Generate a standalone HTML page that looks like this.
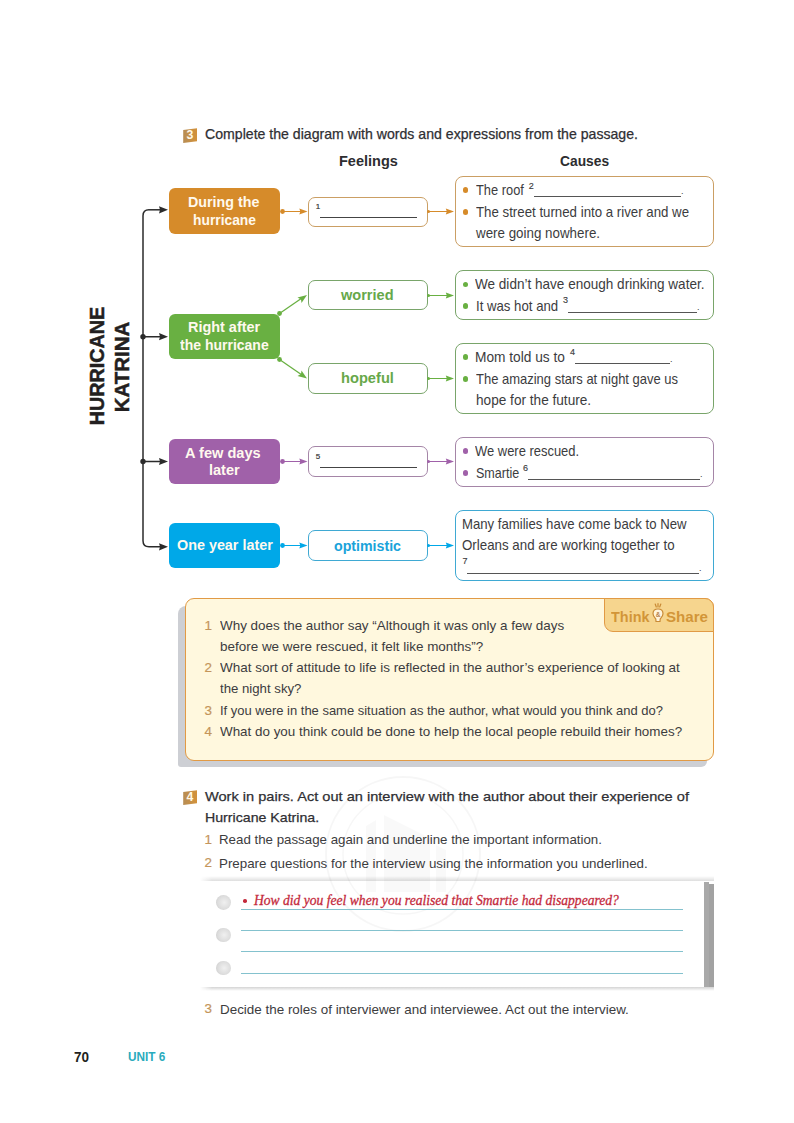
<!DOCTYPE html>
<html><head><meta charset="utf-8"><style>
html,body{margin:0;padding:0;background:#fff;}
body{width:794px;height:1123px;position:relative;overflow:hidden;font-family:"Liberation Sans", sans-serif;}
.t{position:absolute;white-space:nowrap;line-height:1;}
.r{position:absolute;}
</style></head><body>

<svg class="r" style="left:181px;top:127px" width="18" height="18" viewBox="0 0 18 18"><defs><linearGradient id="g3" x1="0" x2="1" y1="0" y2="0"><stop offset="0" stop-color="#B78D55"/><stop offset="1" stop-color="#D3923A"/></linearGradient></defs><path d="M2.2 3 L16 1.2 L16 14.3 L2.2 16 Z" fill="url(#g3)"/><text x="8.9" y="12.3" font-family="Liberation Sans" font-weight="bold" font-size="12.3" fill="#FFF8E8" text-anchor="middle">3</text></svg>
<div class="t" style="left:204.80px;top:127.06px;font-size:14.1px;font-weight:normal;color:#2f2f33;transform:scaleX(1.0013);transform-origin:0 0;-webkit-text-stroke:0.25px #2f2f33;">Complete the diagram with words and expressions from the passage.</div>
<div class="t" style="left:338.60px;top:152.70px;font-size:15px;font-weight:bold;color:#2d2d30;transform:scaleX(0.9679);transform-origin:0 0;">Feelings</div>
<div class="t" style="left:559.60px;top:152.70px;font-size:15px;font-weight:bold;color:#2d2d30;transform:scaleX(0.9200);transform-origin:0 0;">Causes</div>
<div class="t" style="left:16.700000000000003px;top:354.4px;width:160px;height:24px;line-height:24px;text-align:center;font-size:21px;font-weight:bold;color:#231f20;transform:rotate(-90deg) scaleX(0.94);-webkit-text-stroke:0.5px #231f20;">HURRICANE</div>
<div class="t" style="left:42.3px;top:354.8px;width:160px;height:24px;line-height:24px;text-align:center;font-size:21px;font-weight:bold;color:#231f20;transform:rotate(-90deg) scaleX(0.975);-webkit-text-stroke:0.5px #231f20;">KATRINA</div>
<div class="r" style="left:169px;top:188.3px;width:111px;height:45.69999999999999px;background:#D68B2A;border-radius:6px;"></div>
<div class="t" style="left:188.40px;top:194.58px;font-size:14.2px;font-weight:bold;color:#FFF9EE;transform:scaleX(1.0070);transform-origin:0 0;">During the</div>
<div class="t" style="left:192.60px;top:212.58px;font-size:14.2px;font-weight:bold;color:#FFF9EE;transform:scaleX(0.9736);transform-origin:0 0;">hurricane</div>
<div class="r" style="left:169px;top:314.2px;width:111px;height:44.60000000000002px;background:#69B042;border-radius:6px;"></div>
<div class="t" style="left:187.70px;top:320.38px;font-size:14.2px;font-weight:bold;color:#FFF9EE;transform:scaleX(1.0169);transform-origin:0 0;">Right after</div>
<div class="t" style="left:180.10px;top:337.78px;font-size:14.2px;font-weight:bold;color:#FFF9EE;transform:scaleX(0.9871);transform-origin:0 0;">the hurricane</div>
<div class="r" style="left:169px;top:439.2px;width:111px;height:44.80000000000001px;background:#A061A9;border-radius:6px;"></div>
<div class="t" style="left:185.40px;top:445.68px;font-size:14.2px;font-weight:bold;color:#FFF9EE;transform:scaleX(1.0291);transform-origin:0 0;">A few days</div>
<div class="t" style="left:208.80px;top:462.78px;font-size:14.2px;font-weight:bold;color:#FFF9EE;transform:scaleX(1.0237);transform-origin:0 0;">later</div>
<div class="r" style="left:169px;top:522.8px;width:111px;height:45.200000000000045px;background:#00A8E8;border-radius:6px;"></div>
<div class="t" style="left:176.80px;top:538.08px;font-size:14.2px;font-weight:bold;color:#FFF9EE;transform:scaleX(1.0115);transform-origin:0 0;">One year later</div>
<div class="r" style="left:308px;top:196.5px;width:120px;height:30.5px;border:1.3px solid #CB9F64;border-radius:7px;background:#fff;box-sizing:border-box;"></div>
<div class="t" style="left:315.80px;top:203.23px;font-size:8px;font-weight:normal;color:#333;-webkit-text-stroke:0.2px #333;">1</div>
<div class="r" style="left:320px;top:217.1px;width:96.80000000000001px;height:1.3000000000000114px;background:#444;"></div>
<div class="r" style="left:308px;top:279.8px;width:120px;height:30.0px;border:1.3px solid #79A56A;border-radius:7px;background:#fff;box-sizing:border-box;"></div>
<div class="t" style="left:340.84px;top:287.93px;font-size:14.5px;font-weight:bold;color:#67A84A;transform:scaleX(1.0035);transform-origin:0 0;">worried</div>
<div class="r" style="left:308px;top:363.2px;width:120px;height:30.400000000000034px;border:1.3px solid #79A56A;border-radius:7px;background:#fff;box-sizing:border-box;"></div>
<div class="t" style="left:340.80px;top:371.43px;font-size:14.5px;font-weight:bold;color:#67A84A;transform:scaleX(1.0106);transform-origin:0 0;">hopeful</div>
<div class="r" style="left:308px;top:446.3px;width:120px;height:30.5px;border:1.3px solid #A585A7;border-radius:7px;background:#fff;box-sizing:border-box;"></div>
<div class="t" style="left:315.80px;top:453.03px;font-size:8px;font-weight:normal;color:#333;-webkit-text-stroke:0.2px #333;">5</div>
<div class="r" style="left:320px;top:466.90000000000003px;width:96.80000000000001px;height:1.2999999999999545px;background:#444;"></div>
<div class="r" style="left:308px;top:529.7px;width:120px;height:31.09999999999991px;border:1.3px solid #3FA9D3;border-radius:7px;background:#fff;box-sizing:border-box;"></div>
<div class="t" style="left:334.40px;top:538.63px;font-size:14.5px;font-weight:bold;color:#1AA3DA;transform:scaleX(0.9783);transform-origin:0 0;">optimistic</div>
<div class="r" style="left:455px;top:175.5px;width:259px;height:71.5px;border:1.5px solid #CB9F64;border-radius:8px;background:#fff;box-sizing:border-box;"></div>
<div class="r" style="left:462.7px;top:187.3px;width:5.4px;height:5.4px;border-radius:50%;background:#D68B2A;"></div>
<div class="t" style="left:475.80px;top:184.03px;font-size:13.9px;font-weight:normal;color:#3C3C3E;transform:scaleX(0.9249);transform-origin:0 0;">The roof</div>
<div class="t" style="left:528.70px;top:181.88px;font-size:9px;font-weight:normal;color:#3C3C3E;-webkit-text-stroke:0.15px #424244;">2</div>
<div class="r" style="left:534px;top:196px;width:147px;height:1.1999999999999886px;background:#555;"></div>
<div class="t" style="left:681.00px;top:187.48px;font-size:9px;font-weight:normal;color:#3C3C3E;">.</div>
<div class="r" style="left:462.7px;top:209.3px;width:5.4px;height:5.4px;border-radius:50%;background:#D68B2A;"></div>
<div class="t" style="left:475.80px;top:205.93px;font-size:13.9px;font-weight:normal;color:#3C3C3E;transform:scaleX(0.9548);transform-origin:0 0;">The street turned into a river and we</div>
<div class="t" style="left:475.83px;top:227.13px;font-size:13.9px;font-weight:normal;color:#3C3C3E;transform:scaleX(0.9622);transform-origin:0 0;">were going nowhere.</div>
<div class="r" style="left:455px;top:269.5px;width:259px;height:50.5px;border:1.5px solid #79A56A;border-radius:8px;background:#fff;box-sizing:border-box;"></div>
<div class="r" style="left:462.7px;top:281.8px;width:5.4px;height:5.4px;border-radius:50%;background:#69B042;"></div>
<div class="t" style="left:474.80px;top:278.33px;font-size:13.9px;font-weight:normal;color:#3C3C3E;transform:scaleX(0.9753);transform-origin:0 0;">We didn’t have enough drinking water.</div>
<div class="r" style="left:462.7px;top:303.3px;width:5.4px;height:5.4px;border-radius:50%;background:#69B042;"></div>
<div class="t" style="left:475.80px;top:300.03px;font-size:13.9px;font-weight:normal;color:#3C3C3E;transform:scaleX(0.9498);transform-origin:0 0;">It was hot and</div>
<div class="t" style="left:563.00px;top:295.98px;font-size:9px;font-weight:normal;color:#3C3C3E;-webkit-text-stroke:0.15px #424244;">3</div>
<div class="r" style="left:568px;top:312px;width:129px;height:1.1999999999999886px;background:#555;"></div>
<div class="t" style="left:697.00px;top:303.48px;font-size:9px;font-weight:normal;color:#3C3C3E;">.</div>
<div class="r" style="left:455px;top:342.5px;width:259px;height:71.5px;border:1.5px solid #79A56A;border-radius:8px;background:#fff;box-sizing:border-box;"></div>
<div class="r" style="left:462.7px;top:354.3px;width:5.4px;height:5.4px;border-radius:50%;background:#69B042;"></div>
<div class="t" style="left:475.00px;top:351.13px;font-size:13.9px;font-weight:normal;color:#3C3C3E;transform:scaleX(0.9873);transform-origin:0 0;">Mom told us to</div>
<div class="t" style="left:570.00px;top:348.08px;font-size:9px;font-weight:normal;color:#3C3C3E;-webkit-text-stroke:0.15px #424244;">4</div>
<div class="r" style="left:575px;top:363px;width:95px;height:1.1999999999999886px;background:#555;"></div>
<div class="t" style="left:670.00px;top:354.58px;font-size:9px;font-weight:normal;color:#3C3C3E;">.</div>
<div class="r" style="left:462.7px;top:376.3px;width:5.4px;height:5.4px;border-radius:50%;background:#69B042;"></div>
<div class="t" style="left:475.80px;top:373.03px;font-size:13.9px;font-weight:normal;color:#3C3C3E;transform:scaleX(0.9346);transform-origin:0 0;">The amazing stars at night gave us</div>
<div class="t" style="left:475.80px;top:394.13px;font-size:13.9px;font-weight:normal;color:#3C3C3E;transform:scaleX(0.9808);transform-origin:0 0;">hope for the future.</div>
<div class="r" style="left:455px;top:436.5px;width:259px;height:50.5px;border:1.5px solid #A585A7;border-radius:8px;background:#fff;box-sizing:border-box;"></div>
<div class="r" style="left:462.7px;top:448.3px;width:5.4px;height:5.4px;border-radius:50%;background:#A061A9;"></div>
<div class="t" style="left:474.80px;top:445.13px;font-size:13.9px;font-weight:normal;color:#3C3C3E;transform:scaleX(0.9323);transform-origin:0 0;">We were rescued.</div>
<div class="r" style="left:462.7px;top:470.3px;width:5.4px;height:5.4px;border-radius:50%;background:#A061A9;"></div>
<div class="t" style="left:475.80px;top:467.03px;font-size:13.9px;font-weight:normal;color:#3C3C3E;transform:scaleX(0.9022);transform-origin:0 0;">Smartie</div>
<div class="t" style="left:523.00px;top:463.58px;font-size:9px;font-weight:normal;color:#3C3C3E;-webkit-text-stroke:0.15px #424244;">6</div>
<div class="r" style="left:528px;top:479px;width:172px;height:1.1999999999999886px;background:#555;"></div>
<div class="t" style="left:700.00px;top:470.48px;font-size:9px;font-weight:normal;color:#3C3C3E;">.</div>
<div class="r" style="left:455px;top:509.5px;width:259px;height:71.5px;border:1.5px solid #3FA9D3;border-radius:8px;background:#fff;box-sizing:border-box;"></div>
<div class="t" style="left:462.30px;top:518.43px;font-size:13.9px;font-weight:normal;color:#3C3C3E;transform:scaleX(0.9473);transform-origin:0 0;">Many families have come back to New</div>
<div class="t" style="left:462.30px;top:539.43px;font-size:13.9px;font-weight:normal;color:#3C3C3E;transform:scaleX(0.9591);transform-origin:0 0;">Orleans and are working together to</div>
<div class="t" style="left:462.50px;top:556.88px;font-size:9px;font-weight:normal;color:#3C3C3E;-webkit-text-stroke:0.15px #424244;">7</div>
<div class="r" style="left:467px;top:572.5px;width:232px;height:1.2000000000000455px;background:#555;"></div>
<div class="t" style="left:699.00px;top:564.38px;font-size:9px;font-weight:normal;color:#3C3C3E;">.</div>
<div class="r" style="left:178px;top:606px;width:529px;height:161px;background:#CDCFD4;border-radius:8px 0 6px 3px;"></div>
<div class="r" style="left:185px;top:598px;width:529px;height:163px;background:#FFF8DE;border:1.5px solid #E19A45;border-radius:9px;box-sizing:border-box;"></div>
<div class="r" style="left:603.5px;top:598px;width:110.5px;height:33.5px;background:#F6D58E;border:1.5px solid #E19A45;border-radius:0 9px 0 9px;box-sizing:border-box;"></div>
<div class="t" style="left:610.50px;top:609.97px;font-size:14.8px;font-weight:bold;color:#D29538;transform:scaleX(0.9750);transform-origin:0 0;">Think</div>
<div class="t" style="left:665.50px;top:609.97px;font-size:14.8px;font-weight:bold;color:#D29538;transform:scaleX(1.0212);transform-origin:0 0;">Share</div>
<svg class="r" style="left:650px;top:602px" width="16" height="22" viewBox="0 0 16 22"><path d="M5.2 2 L6.3 5 M8 1.5 L8 5 M10.8 2 L9.7 5" stroke="#C98A35" stroke-width="1.2" stroke-linecap="round"/><path d="M8 7 C11 7 13 9 13 11.8 C13 14 11.5 15.5 10.2 17 L10 19.5 L6 19.5 L5.8 17 C4.5 15.5 3 14 3 11.8 C3 9 5 7 8 7 Z" fill="#FFF4DC" stroke="#C98A35" stroke-width="1.2"/><text x="8" y="15" font-family="Liberation Sans" font-weight="bold" font-size="6.5" fill="#B7804A" text-anchor="middle">&amp;</text></svg>
<div class="t" style="left:204.50px;top:618.56px;font-size:13.4px;font-weight:normal;color:#C4955A;-webkit-text-stroke:0.2px #C4955A;">1</div>
<div class="t" style="left:219.50px;top:618.73px;font-size:13.2px;font-weight:normal;color:#3C3C3E;transform:scaleX(1.0185);transform-origin:0 0;">Why does the author say “Although it was only a few days</div>
<div class="t" style="left:219.50px;top:640.23px;font-size:13.2px;font-weight:normal;color:#3C3C3E;transform:scaleX(1.0203);transform-origin:0 0;">before we were rescued, it felt like months”?</div>
<div class="t" style="left:204.50px;top:661.16px;font-size:13.4px;font-weight:normal;color:#C4955A;-webkit-text-stroke:0.2px #C4955A;">2</div>
<div class="t" style="left:219.50px;top:661.33px;font-size:13.2px;font-weight:normal;color:#3C3C3E;transform:scaleX(1.0211);transform-origin:0 0;">What sort of attitude to life is reflected in the author’s experience of looking at</div>
<div class="t" style="left:219.50px;top:682.13px;font-size:13.2px;font-weight:normal;color:#3C3C3E;transform:scaleX(1.0007);transform-origin:0 0;">the night sky?</div>
<div class="t" style="left:204.50px;top:703.96px;font-size:13.4px;font-weight:normal;color:#C4955A;-webkit-text-stroke:0.2px #C4955A;">3</div>
<div class="t" style="left:219.50px;top:704.13px;font-size:13.2px;font-weight:normal;color:#3C3C3E;transform:scaleX(0.9839);transform-origin:0 0;">If you were in the same situation as the author, what would you think and do?</div>
<div class="t" style="left:204.50px;top:724.86px;font-size:13.4px;font-weight:normal;color:#C4955A;-webkit-text-stroke:0.2px #C4955A;">4</div>
<div class="t" style="left:219.50px;top:725.03px;font-size:13.2px;font-weight:normal;color:#3C3C3E;transform:scaleX(1.0166);transform-origin:0 0;">What do you think could be done to help the local people rebuild their homes?</div>
<svg class="r" style="left:181px;top:788.5px" width="18" height="18" viewBox="0 0 18 18"><defs><linearGradient id="g4" x1="0" x2="1" y1="0" y2="0"><stop offset="0" stop-color="#B78D55"/><stop offset="1" stop-color="#D3923A"/></linearGradient></defs><path d="M2.2 3 L16 1.2 L16 14.3 L2.2 16 Z" fill="url(#g4)"/><text x="8.9" y="12.3" font-family="Liberation Sans" font-weight="bold" font-size="12.3" fill="#FFF8E8" text-anchor="middle">4</text></svg>
<div class="t" style="left:204.80px;top:789.89px;font-size:13.6px;font-weight:normal;color:#2f2f33;transform:scaleX(1.0734);transform-origin:0 0;-webkit-text-stroke:0.25px #2f2f33;">Work in pairs. Act out an interview with the author about their experience of</div>
<div class="t" style="left:204.80px;top:810.79px;font-size:13.6px;font-weight:normal;color:#2f2f33;transform:scaleX(1.0419);transform-origin:0 0;-webkit-text-stroke:0.25px #2f2f33;">Hurricane Katrina.</div>
<div class="t" style="left:204.50px;top:832.66px;font-size:13.4px;font-weight:normal;color:#C4955A;-webkit-text-stroke:0.2px #C4955A;">1</div>
<div class="t" style="left:219.40px;top:832.83px;font-size:13.2px;font-weight:normal;color:#3C3C3E;transform:scaleX(1.0084);transform-origin:0 0;">Read the passage again and underline the important information.</div>
<div class="t" style="left:204.50px;top:856.36px;font-size:13.4px;font-weight:normal;color:#C4955A;-webkit-text-stroke:0.2px #C4955A;">2</div>
<div class="t" style="left:219.40px;top:856.53px;font-size:13.2px;font-weight:normal;color:#3C3C3E;transform:scaleX(1.0118);transform-origin:0 0;">Prepare questions for the interview using the information you underlined.</div>
<svg class="r" style="left:0;top:0" width="794" height="1123"><g fill="none" stroke="#000" stroke-opacity="0.035"><circle cx="403" cy="854" r="77" stroke-width="2"/><circle cx="403" cy="854" r="60" stroke-width="1.5"/></g><g fill="#000" fill-opacity="0.025"><path d="M366 826 L376 820 L376 892 L366 892 Z M384 815 L430 838 L430 892 L384 892 Z M436 845 L446 850 L446 892 L436 892 Z"/></g></svg>
<div class="r" style="left:200px;top:875.5px;width:514px;height:5.5px;background:linear-gradient(to right, rgba(255,255,255,1), rgba(255,255,255,0) 12px), linear-gradient(to bottom, rgba(0,0,0,0), rgba(0,0,0,0.13));"></div>
<div class="r" style="left:200px;top:986.5px;width:514px;height:4.5px;background:linear-gradient(to right, rgba(255,255,255,1), rgba(255,255,255,0) 12px), linear-gradient(to bottom, rgba(0,0,0,0.17), rgba(0,0,0,0));"></div>
<div class="r" style="left:704px;top:882px;width:5px;height:104.5px;background:#A9A9A9;"></div>
<div class="r" style="left:709px;top:884px;width:5px;height:102.5px;background:#A2A2A2;"></div>
<div class="r" style="left:215.9px;top:894.9px;width:14.8px;height:14.8px;border-radius:50%;background:radial-gradient(circle at 55% 50%, #f0f0f0 0%, #dcdcdc 60%, #c2c2c2 100%);"></div>
<div class="r" style="left:215.9px;top:927.6px;width:14.8px;height:14.8px;border-radius:50%;background:radial-gradient(circle at 55% 50%, #f0f0f0 0%, #dcdcdc 60%, #c2c2c2 100%);"></div>
<div class="r" style="left:215.9px;top:960.6px;width:14.8px;height:14.8px;border-radius:50%;background:radial-gradient(circle at 55% 50%, #f0f0f0 0%, #dcdcdc 60%, #c2c2c2 100%);"></div>
<div class="r" style="left:241px;top:909px;width:442.20000000000005px;height:1.25px;background:#84C2CE;"></div>
<div class="r" style="left:241px;top:930px;width:442.20000000000005px;height:1.25px;background:#84C2CE;"></div>
<div class="r" style="left:241px;top:951px;width:442.20000000000005px;height:1.25px;background:#84C2CE;"></div>
<div class="r" style="left:241px;top:973px;width:442.20000000000005px;height:1.25px;background:#84C2CE;"></div>
<div class="r" style="left:243.3px;top:899.3px;width:3.6px;height:3.6px;border-radius:50%;background:#C42A3C;"></div>
<div class="t" style="left:254.15px;top:892.73px;font-size:14.5px;font-weight:normal;color:#C42A3C;transform:scaleX(0.9365);transform-origin:0 0;font-family:'Liberation Serif',serif;-webkit-text-stroke:0.3px #C42A3C;"><i>How did you feel when you realised that Smartie had disappeared?</i></div>
<div class="t" style="left:204.50px;top:1002.46px;font-size:13.4px;font-weight:normal;color:#C4955A;-webkit-text-stroke:0.2px #C4955A;">3</div>
<div class="t" style="left:219.80px;top:1002.63px;font-size:13.2px;font-weight:normal;color:#3C3C3E;transform:scaleX(1.0177);transform-origin:0 0;">Decide the roles of interviewer and interviewee. Act out the interview.</div>
<div class="t" style="left:74.00px;top:1049.65px;font-size:14px;font-weight:bold;color:#231f20;transform:scaleX(0.9635);transform-origin:0 0;">70</div>
<div class="t" style="left:128.00px;top:1049.99px;font-size:13.6px;font-weight:bold;color:#2AABBD;transform:scaleX(0.8683);transform-origin:0 0;">UNIT 6</div>
<svg class="r" style="left:0;top:0" width="794" height="1123" viewBox="0 0 794 1123">
<path d="M149 209.8 Q143 209.8 143 215.8 L143 540.8 Q143 546.8 149 546.8 L160 546.8" fill="none" stroke="#2b2b2b" stroke-width="1.5"/>
<path d="M149 209.8 L160 209.8" stroke="#2b2b2b" stroke-width="1.5"/>
<path d="M143 336.7 L160 336.7 M143 461.5 L160 461.5" stroke="#2b2b2b" stroke-width="1.5"/>
<path d="M168 209.8 L159 206.20000000000002 L160 209.8 L159 213.4 Z" fill="#2b2b2b"/>
<path d="M168 336.7 L159 333.09999999999997 L160 336.7 L159 340.3 Z" fill="#2b2b2b"/>
<path d="M168 461.5 L159 457.9 L160 461.5 L159 465.1 Z" fill="#2b2b2b"/>
<path d="M168 546.8 L159 543.1999999999999 L160 546.8 L159 550.4 Z" fill="#2b2b2b"/>
<circle cx="143" cy="336.7" r="2.7" fill="#2b2b2b"/>
<circle cx="143" cy="461.5" r="2.7" fill="#2b2b2b"/>
<circle cx="282.5" cy="211.5" r="2.4" fill="#D68B2A"/>
<path d="M282.5 211.5 L301.5 211.5" stroke="#D68B2A" stroke-width="1.05"/>
<path d="M307.5 211.5 L299.3 208.4 L300.3 211.5 L299.3 214.6 Z" fill="#D68B2A"/>
<circle cx="428.5" cy="211.5" r="1.5" fill="#D68B2A"/>
<path d="M428 211.5 L448 211.5" stroke="#D68B2A" stroke-width="1.05"/>
<path d="M454 211.5 L445.8 208.4 L446.8 211.5 L445.8 214.6 Z" fill="#D68B2A"/>
<circle cx="428.5" cy="295.5" r="1.5" fill="#69B042"/>
<path d="M428 295.5 L448 295.5" stroke="#69B042" stroke-width="1.05"/>
<path d="M454 295.5 L445.8 292.4 L446.8 295.5 L445.8 298.6 Z" fill="#69B042"/>
<circle cx="428.5" cy="378.5" r="1.5" fill="#69B042"/>
<path d="M428 378.5 L448 378.5" stroke="#69B042" stroke-width="1.05"/>
<path d="M454 378.5 L445.8 375.4 L446.8 378.5 L445.8 381.6 Z" fill="#69B042"/>
<circle cx="282.5" cy="461.5" r="2.4" fill="#A061A9"/>
<path d="M282.5 461.5 L301.5 461.5" stroke="#A061A9" stroke-width="1.05"/>
<path d="M307.5 461.5 L299.3 458.4 L300.3 461.5 L299.3 464.6 Z" fill="#A061A9"/>
<circle cx="428.5" cy="461.5" r="1.5" fill="#A061A9"/>
<path d="M428 461.5 L448 461.5" stroke="#A061A9" stroke-width="1.05"/>
<path d="M454 461.5 L445.8 458.4 L446.8 461.5 L445.8 464.6 Z" fill="#A061A9"/>
<circle cx="282.5" cy="545.5" r="2.4" fill="#00A8E8"/>
<path d="M282.5 545.5 L301.5 545.5" stroke="#00A8E8" stroke-width="1.05"/>
<path d="M307.5 545.5 L299.3 542.4 L300.3 545.5 L299.3 548.6 Z" fill="#00A8E8"/>
<circle cx="428.5" cy="545.5" r="1.5" fill="#00A8E8"/>
<path d="M428 545.5 L448 545.5" stroke="#00A8E8" stroke-width="1.05"/>
<path d="M454 545.5 L445.8 542.4 L446.8 545.5 L445.8 548.6 Z" fill="#00A8E8"/>
<circle cx="279.5" cy="313.5" r="2.4" fill="#69B042"/><circle cx="279.5" cy="359.5" r="2.4" fill="#69B042"/>
<path d="M279.5 313.5 L302 298" stroke="#69B042" stroke-width="1.3"/>
<path d="M279.5 359.5 L302 375" stroke="#69B042" stroke-width="1.3"/>
<path d="M307 295 L297.5 297.5 L301 299.5 L301.5 303 Z" fill="#69B042"/>
<path d="M307 378.5 L301.5 370.5 L301 374 L297.5 376 Z" fill="#69B042"/>
</svg>
</body></html>
